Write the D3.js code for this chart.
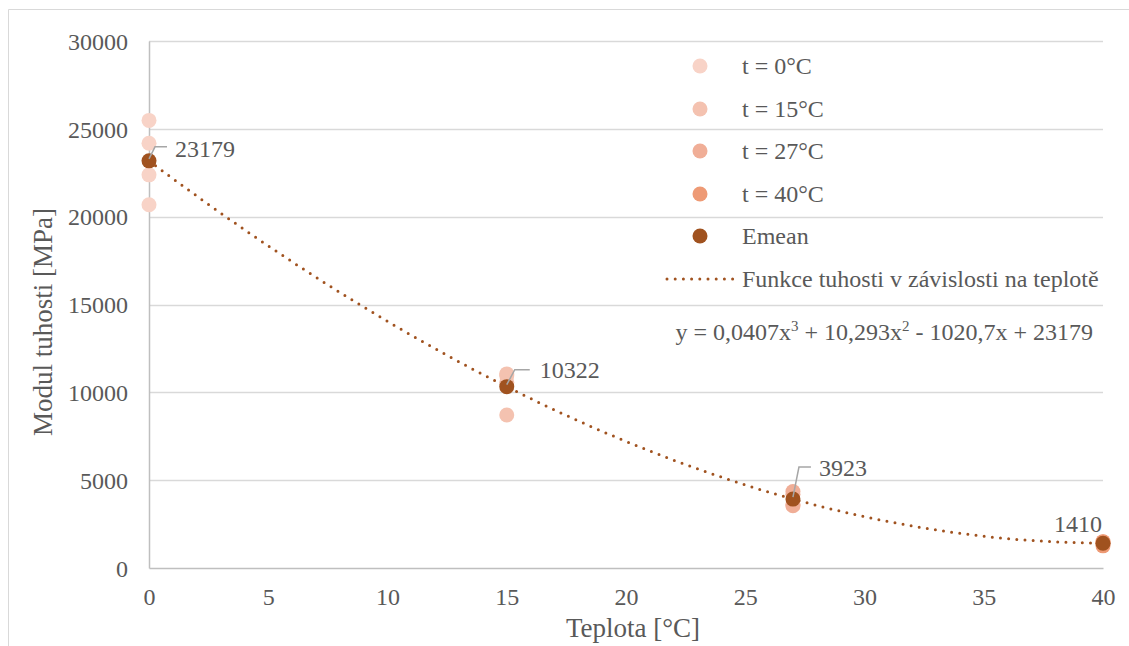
<!DOCTYPE html>
<html>
<head>
<meta charset="utf-8">
<script src="https://cdn.jsdelivr.net/npm/d3@7"></script>
<style>
  html, body { margin: 0; padding: 0; background: #fff; }
  svg { display: block; }
</style>
</head>
<body>
<svg id="chart" width="1129" height="646"></svg>
<script>
// ---- data ----
const seriesNames = ["t = 0°C", "t = 15°C", "t = 27°C", "t = 40°C"];
const seriesX = [0, 15, 27, 40];
const values0 = [25480, 24180, 22380, 20680];
const values15 = [11050, 10950, 10578, 8710];
const values27 = [4350, 4200, 3600, 3540];
const values40 = [1500, 1480, 1400, 1260];
const meanX = [0, 15, 27, 40];
const meanValues = [23179, 10322, 3923, 1410];
const meanLabels = ["23179", "10322", "3923", "1410"];
const meanName = "Emean";
const trendName = "Funkce tuhosti v závislosti na teplotě";
const trendCoefficients = [0.0407, 10.293, -1020.7, 23179]; // x^3, x^2, x, const
const xTicks = [0, 5, 10, 15, 20, 25, 30, 35, 40];
const yTicks = [0, 5000, 10000, 15000, 20000, 25000, 30000];
const xTitle = "Teplota [°C]";
const yTitle = "Modul tuhosti [MPa]";
const seriesColors = ["#f8d3c7", "#f4c2b0", "#f0ae97", "#ee9a75"];
const meanColor = "#a0521f";

(function () {
const FONT = "'Liberation Serif'";
const TXT = "#595959";
const svg = d3.select("#chart");
const pLeft = 149, pRight = 1103, pTop = 41, pBottom = 568;
const x = d3.scaleLinear().domain([0, 40]).range([pLeft, pRight]);
const y = d3.scaleLinear().domain([0, 30000]).range([pBottom, pTop]);

// outer border
svg.append("path").attr("d", "M8.5,646 L8.5,9.5 L1129,9.5")
  .attr("fill", "none").attr("stroke", "#d9d9d9").attr("stroke-width", 1);

// gridlines
svg.append("g").selectAll("line").data(yTicks.filter(d => d > 0)).join("line")
  .attr("x1", pLeft).attr("x2", pRight)
  .attr("y1", d => Math.round(y(d)) + 0.5).attr("y2", d => Math.round(y(d)) + 0.5)
  .attr("stroke", "#d9d9d9").attr("stroke-width", 1.5);

// axes
const yAxis = d3.axisLeft(y).tickValues(yTicks).tickSize(0).tickPadding(21).tickFormat(d3.format("d"));
const gy = svg.append("g").attr("transform", `translate(${pLeft},0)`).call(yAxis);
gy.select(".domain").attr("stroke", "#bfbfbf").attr("stroke-width", 1.5);
gy.selectAll("text").attr("dy", "0.34em");

const xAxis = d3.axisBottom(x).tickValues(xTicks).tickSize(0).tickPadding(20);
const gx = svg.append("g").attr("transform", `translate(0,${pBottom})`).call(xAxis);
gx.select(".domain").attr("stroke", "#bfbfbf").attr("stroke-width", 1.5);
gx.selectAll("text").attr("dy", "0.71em");

// axis titles
svg.append("text").attr("transform", "translate(52,322) rotate(-90)")
  .attr("text-anchor", "middle").attr("class", "title").text(yTitle);
svg.append("text").attr("x", 633).attr("y", 637)
  .attr("text-anchor", "middle").attr("class", "title").text(xTitle);

// specimen points
const allSeries = [values0, values15, values27, values40];
allSeries.forEach((vals, i) => {
  svg.append("g").selectAll("circle").data(vals).join("circle")
    .attr("cx", x(seriesX[i])).attr("cy", d => y(d)).attr("r", 7.5)
    .attr("fill", seriesColors[i]);
});

// trend line
const trendXs = d3.range(0, 40.01, 0.25);
const poly = t => trendCoefficients[0] * t ** 3 + trendCoefficients[1] * t ** 2 + trendCoefficients[2] * t + trendCoefficients[3];
svg.append("path").datum(trendXs)
  .attr("d", d3.line().x(d => x(d)).y(d => y(poly(d))))
  .attr("fill", "none").attr("stroke", meanColor).attr("stroke-width", 3)
  .attr("stroke-linecap", "round").attr("stroke-dasharray", "0 8.2");

// mean points
svg.append("g").selectAll("circle").data(meanValues).join("circle")
  .attr("cx", (d, i) => x(meanX[i])).attr("cy", d => y(d)).attr("r", 7.5)
  .attr("fill", meanColor);

// data labels: [textDx, baselineDy, elbowDx, elbowDy, endDx]
const labelPos = [
  [26, -4, 6, -14, 18],
  [33, -9, 8, -17, 23],
  [26, -23, 6, -32, 18],
  [-1, -11, null, null, null]
];
meanValues.forEach((v, i) => {
  const px = x(meanX[i]), py = y(v);
  const [tdx, tdy, edx, edy, endx] = labelPos[i];
  if (edx !== null) {
    svg.append("path")
      .attr("d", `M${px},${py - 2} L${px + edx},${py + edy} L${px + endx},${py + edy}`)
      .attr("fill", "none").attr("stroke", "#a6a6a6").attr("stroke-width", 1.5);
    svg.append("text").attr("x", px + tdx).attr("y", py + tdy).text(meanLabels[i]);
  } else {
    svg.append("text").attr("x", px + tdx).attr("y", py + tdy)
      .attr("text-anchor", "end").text(meanLabels[i]);
  }
});

// legend
const legX = 700, legTextX = 742;
const legRows = [66, 109, 151, 194, 236];
const legNames = seriesNames.concat([meanName]);
const legColors = seriesColors.concat([meanColor]);
legRows.forEach((ry, i) => {
  svg.append("circle").attr("cx", legX).attr("cy", ry).attr("r", 7.5).attr("fill", legColors[i]);
  svg.append("text").attr("x", legTextX).attr("y", ry).attr("dy", "0.35em").text(legNames[i]);
});
svg.append("line").attr("x1", 667).attr("x2", 734).attr("y1", 279).attr("y2", 279)
  .attr("stroke", meanColor).attr("stroke-width", 3).attr("stroke-linecap", "round")
  .attr("stroke-dasharray", "0 8.2");
svg.append("text").attr("x", legTextX).attr("y", 279).attr("dy", "0.35em").text(trendName);

// equation
const eq = svg.append("text").attr("x", 1093).attr("y", 340).attr("text-anchor", "end");
eq.append("tspan").text("y = 0,0407x");
eq.append("tspan").attr("class", "sup").attr("dy", -9).text("3");
eq.append("tspan").attr("dy", 9).text(" + 10,293x");
eq.append("tspan").attr("class", "sup").attr("dy", -9).text("2");
eq.append("tspan").attr("dy", 9).text(" - 1020,7x + 23179");

// font styling
svg.selectAll("text")
  .attr("font-family", null)
  .attr("font-size", function () { return this.getAttribute("class") === "title" ? 27 : 24; })
  .attr("fill", TXT)
  .style("font-family", FONT);
svg.selectAll("g").attr("font-family", null).attr("font-size", null);
svg.selectAll("tspan.sup").attr("font-size", 15).style("font-family", FONT);
})();
</script>
</body>
</html>
